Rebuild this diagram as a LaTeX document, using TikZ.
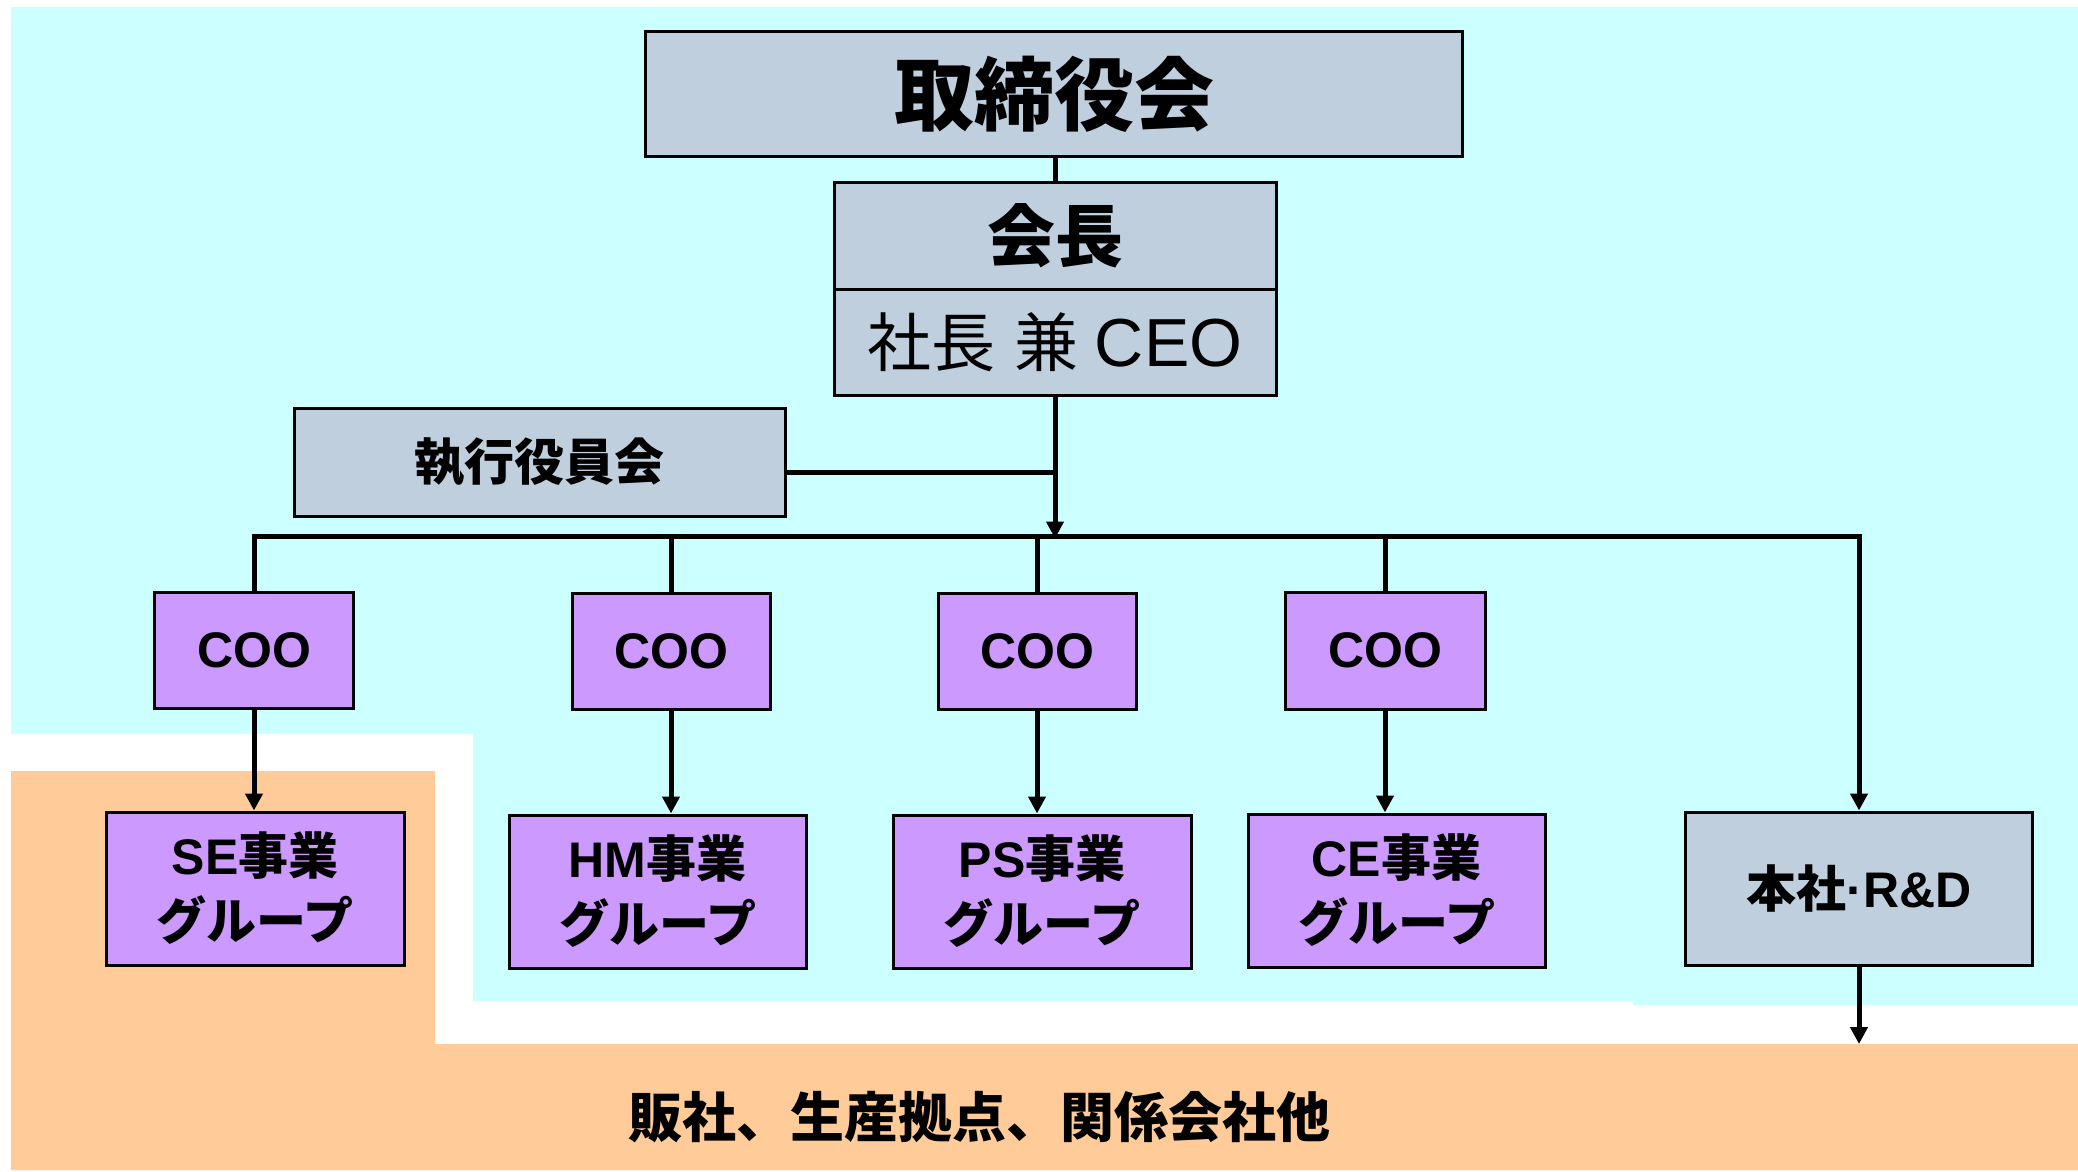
\documentclass[tikz,border=0pt]{standalone}
\usepackage{fontspec}
\setmainfont{Liberation Sans}
\newfontfamily\jpfont{Noto Sans CJK JP}
\usetikzlibrary{arrows.meta}
\definecolor{bgcyan}{RGB}{204,255,255}
\definecolor{bgorange}{RGB}{255,204,153}
\definecolor{boxgray}{RGB}{191,207,221}
\definecolor{boxpurple}{RGB}{204,153,255}
\tikzset{
  gbox/.style={draw, line width=3pt, fill=boxgray, inner sep=0pt, align=center},
  pbox/.style={draw, line width=3pt, fill=boxpurple, inner sep=0pt, align=center},
  conn/.style={line width=5pt},
  arr/.style={line width=5pt, -{Triangle[length=17pt,width=17pt]}},
  grptext/.style={font=\bfseries\fontsize{50}{65}\selectfont},
  cootext/.style={font=\bfseries\fontsize{50}{60}\selectfont},
}
\begin{document}
\begin{tikzpicture}[x=1pt,y=-1pt]
\useasboundingbox (0,0) rectangle (2078,1172);
\fill[white] (0,0) rectangle (2078,1172);
% background regions
\fill[bgcyan] (11,7) -- (2078,7) -- (2078,1005) -- (1633,1005) -- (1633,1001) -- (473,1001) -- (473,734) -- (11,734) -- cycle;
\fill[bgorange] (11,771) -- (435,771) -- (435,1044) -- (2078,1044) -- (2078,1170) -- (11,1170) -- cycle;

% top boxes
\node[gbox, minimum width=817pt, minimum height=124pt, font=\jpfont\bfseries\fontsize{80}{90}\selectfont] (board) at (1054,94) {取締役会};
\node[gbox, minimum width=442pt, minimum height=107pt, font=\jpfont\bfseries\fontsize{68}{80}\selectfont] (chair) at (1055,235.5) {会長};
\node[gbox, minimum width=442pt, minimum height=106pt] (ceo) at (1055,342) {{\jpfont\fontsize{64}{76}\selectfont 社長\hspace{0.3em}兼\hspace{0.25em}}{\fontsize{68}{76}\selectfont CEO}};
\node[gbox, minimum width=491pt, minimum height=108pt, font=\jpfont\bfseries\fontsize{50}{60}\selectfont] (exec) at (539.5,462) {執行役員会};

% COO boxes
\node[pbox, cootext, minimum width=199pt, minimum height=116pt] (secoo) at (254,650) {COO};
\node[pbox, cootext, minimum width=198pt, minimum height=116pt] (hmcoo) at (671,651) {COO};
\node[pbox, cootext, minimum width=198pt, minimum height=116pt] (pscoo) at (1037,651) {COO};
\node[pbox, cootext, minimum width=200pt, minimum height=117pt] (cecoo) at (1385,650.5) {COO};

% group boxes
\node[pbox, grptext, minimum width=298pt, minimum height=153pt] (segrp) at (255,888.5) {SE{\jpfont 事業}\\{\jpfont グループ}};
\node[pbox, grptext, minimum width=297pt, minimum height=153pt] (hmgrp) at (657.5,891.5) {HM{\jpfont 事業}\\{\jpfont グループ}};
\node[pbox, grptext, minimum width=298pt, minimum height=153pt] (psgrp) at (1042,891.5) {PS{\jpfont 事業}\\{\jpfont グループ}};
\node[pbox, grptext, minimum width=297pt, minimum height=153pt] (cegrp) at (1396.5,890.5) {CE{\jpfont 事業}\\{\jpfont グループ}};
\node[gbox, grptext, minimum width=347pt, minimum height=153pt] (rnd) at (1859,888.5) {{\jpfont 本社}·R\&D};

% bottom label
\node[font=\jpfont\bfseries\fontsize{54}{60}\selectfont] (affil) at (979,1117) {販社、生産拠点、関係会社他};

% connector coordinates
\coordinate (bus) at (1055,536);
\coordinate (ej) at (1055,472);
\coordinate (otop) at (1859,1044);

% connectors
\draw[conn] (board.south -| chair.north) -- (chair.north);
\draw[arr] (ceo.south) -- ([yshift=-2.5pt]ceo.south |- bus);
\draw[conn] (exec.east |- ej) -- (ej);
\draw[arr] (secoo.north) |- (bus) -| (rnd.north);
\draw[conn] (hmcoo.north) -- (hmcoo.north |- bus);
\draw[conn] (pscoo.north) -- (pscoo.north |- bus);
\draw[conn] (cecoo.north) -- (cecoo.north |- bus);
\draw[arr] (secoo.south) -- (secoo.south |- segrp.north);
\draw[arr] (hmcoo.south) -- (hmcoo.south |- hmgrp.north);
\draw[arr] (pscoo.south) -- (pscoo.south |- psgrp.north);
\draw[arr] (cecoo.south) -- (cecoo.south |- cegrp.north);
\draw[arr] (rnd.south) -- (otop);
\end{tikzpicture}
\end{document}
